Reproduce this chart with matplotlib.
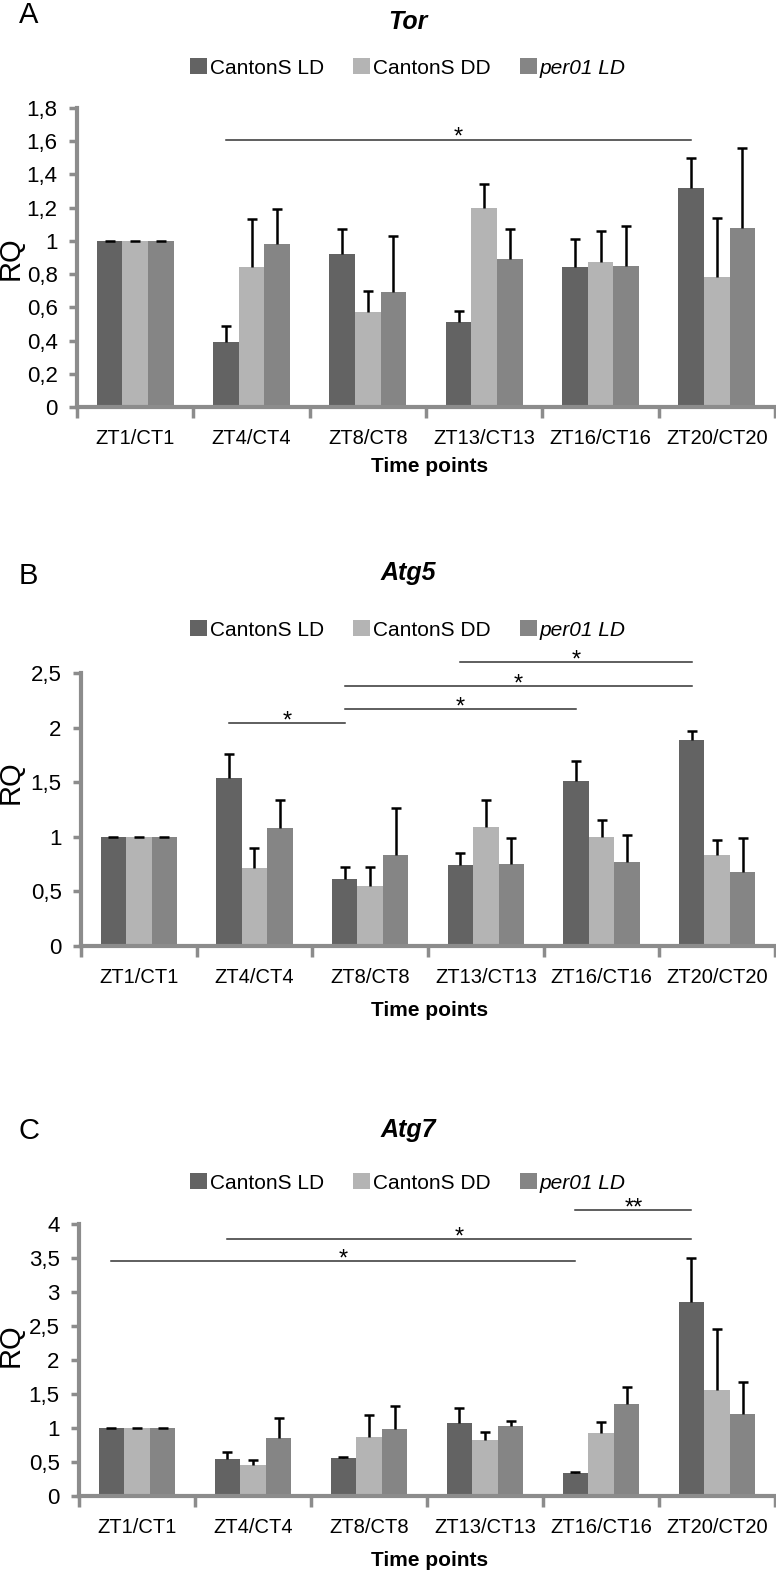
import matplotlib
matplotlib.use("Agg")
import matplotlib.pyplot as plt
import numpy as np

plt.rcParams['font.family'] = ['Liberation Sans', 'DejaVu Sans']

categories = ["ZT1/CT1", "ZT4/CT4", "ZT8/CT8", "ZT13/CT13", "ZT16/CT16", "ZT20/CT20"]
series_names = ["CantonS LD", "CantonS DD", "per01 LD"]

# Panel A: Tor
tor_ld = [1.0, 0.39, 0.92, 0.51, 0.84, 1.32]
tor_dd = [1.0, 0.84, 0.57, 1.20, 0.87, 0.78]
tor_per = [1.0, 0.98, 0.69, 0.89, 0.85, 1.08]
tor_ld_err = [0.0, 0.10, 0.15, 0.07, 0.17, 0.18]
tor_dd_err = [0.0, 0.29, 0.13, 0.14, 0.19, 0.36]
tor_per_err = [0.0, 0.21, 0.34, 0.18, 0.24, 0.48]
tor_yticks = [0, 0.2, 0.4, 0.6, 0.8, 1.0, 1.2, 1.4, 1.6, 1.8]
tor_yticklabels = ["0", "0,2", "0,4", "0,6", "0,8", "1", "1,2", "1,4", "1,6", "1,8"]
# significance: (from category, to category, line height, label)
tor_sig = [(1, 5, 1.61, "*")]

# Panel B: Atg5
atg5_ld = [1.0, 1.54, 0.61, 0.74, 1.51, 1.89]
atg5_dd = [1.0, 0.71, 0.55, 1.09, 1.00, 0.83]
atg5_per = [1.0, 1.08, 0.83, 0.75, 0.77, 0.68]
atg5_ld_err = [0.0, 0.22, 0.11, 0.11, 0.18, 0.08]
atg5_dd_err = [0.0, 0.19, 0.17, 0.25, 0.15, 0.14]
atg5_per_err = [0.0, 0.26, 0.43, 0.24, 0.25, 0.31]
atg5_yticks = [0, 0.5, 1.0, 1.5, 2.0, 2.5]
atg5_yticklabels = ["0", "0,5", "1", "1,5", "2", "2,5"]
atg5_sig = [(1, 2, 2.04, "*"), (2, 4, 2.17, "*"), (2, 5, 2.38, "*"), (3, 5, 2.60, "*")]

# Panel C: Atg7
atg7_ld = [1.0, 0.54, 0.56, 1.08, 0.34, 2.86]
atg7_dd = [1.0, 0.45, 0.87, 0.82, 0.93, 1.56]
atg7_per = [1.0, 0.85, 0.98, 1.03, 1.36, 1.20]
atg7_ld_err = [0.0, 0.10, 0.01, 0.22, 0.02, 0.64]
atg7_dd_err = [0.0, 0.08, 0.32, 0.12, 0.16, 0.90]
atg7_per_err = [0.0, 0.29, 0.34, 0.08, 0.24, 0.47]
atg7_yticks = [0, 0.5, 1.0, 1.5, 2.0, 2.5, 3.0, 3.5, 4.0]
atg7_yticklabels = ["0", "0,5", "1", "1,5", "2", "2,5", "3", "3,5", "4"]
atg7_sig = [(0, 4, 3.45, "*"), (1, 5, 3.78, "*"), (4, 5, 4.20, "**")]

colors = ["#636363", "#b4b4b4", "#858585"]
spine_col = "#8c8c8c"

W, H = 776, 1575
fig = plt.figure(figsize=(W / 100, H / 100), dpi=100)


def rect(left, top, right, bottom):
    return [left / W, 1 - bottom / H, (right - left) / W, (bottom - top) / H]


panels = [
    dict(letter="A", title="Tor", ld=tor_ld, dd=tor_dd, per=tor_per,
         errs=(tor_ld_err, tor_dd_err, tor_per_err), yticks=tor_yticks,
         ylabels=tor_yticklabels, sig=tor_sig, box=(77, 108, 775, 407),
         letter_y=15, title_y=22, legend_y=68, xl_y=467, rq_y=258),
    dict(letter="B", title="Atg5", ld=atg5_ld, dd=atg5_dd, per=atg5_per,
         errs=(atg5_ld_err, atg5_dd_err, atg5_per_err), yticks=atg5_yticks,
         ylabels=atg5_yticklabels, sig=atg5_sig, box=(81, 673, 775, 946),
         letter_y=576, title_y=573, legend_y=630, xl_y=1010, rq_y=782),
    dict(letter="C", title="Atg7", ld=atg7_ld, dd=atg7_dd, per=atg7_per,
         errs=(atg7_ld_err, atg7_dd_err, atg7_per_err), yticks=atg7_yticks,
         ylabels=atg7_yticklabels, sig=atg7_sig, box=(79, 1224, 775, 1496),
         letter_y=1131, title_y=1130, legend_y=1183, xl_y=1560, rq_y=1345),
]

bw = 0.22
offs = [-0.22, 0.0, 0.22]
x = np.arange(len(categories))

for p in panels:
    ax = fig.add_axes(rect(*p["box"]))
    handles = []
    for i, (vals, err) in enumerate(zip((p["ld"], p["dd"], p["per"]), p["errs"])):
        b = ax.bar(x + offs[i], vals, bw, color=colors[i], edgecolor="none",
                   label=series_names[i], zorder=2)
        handles.append(b)
        eb = ax.errorbar(x + offs[i], vals, yerr=[np.zeros(len(err)), err], fmt="none",
                         ecolor="black", elinewidth=1.8, capsize=3.5, capthick=1.8, zorder=3)
        caps = eb[1]
        if len(caps) == 2:
            caps[0].set_visible(False)
    ax.set_xlim(-0.5, 5.5)
    ax.set_ylim(p["yticks"][0], p["yticks"][-1])
    ax.set_yticks(p["yticks"])
    ax.set_yticklabels(p["ylabels"], fontsize=16)
    ax.set_xticks(x)
    ax.set_xticklabels(categories, fontsize=14.5)
    ax.set_xticks(np.arange(-0.5, 6.0, 1.0), minor=True)
    ax.tick_params(axis="x", which="major", length=0, pad=16)
    ax.tick_params(axis="x", which="minor", length=8, width=2.5, color=spine_col, direction="out")
    ax.tick_params(axis="y", length=6, width=2.5, color=spine_col, pad=8)
    for s in ("top", "right"):
        ax.spines[s].set_visible(False)
    for s in ("left", "bottom"):
        ax.spines[s].set_color(spine_col)
        ax.spines[s].set_linewidth(3)
    ax.spines["bottom"].set_zorder(4)

    for (a, b2, h, lab) in p["sig"]:
        xa = a + offs[0]
        xb = b2 + offs[0]
        ax.plot([xa, xb], [h, h], color="#333333", lw=1.1, clip_on=False, zorder=5)
        ax.annotate(lab, xy=((xa + xb) / 2, h), xytext=(0, -3), textcoords="offset points",
                    ha="center", va="baseline", fontsize=17, annotation_clip=False)

    fig.text(19 / W, 1 - p["letter_y"] / H, p["letter"], fontsize=21, ha="left", va="center")
    fig.text(408 / W, 1 - p["title_y"] / H, p["title"], fontsize=18, fontweight="bold",
             fontstyle="italic", ha="center", va="center")
    fig.text(430 / W, 1 - p["xl_y"] / H, "Time points", fontsize=15, fontweight="bold",
             ha="center", va="center")
    fig.text(11 / W, 1 - p["rq_y"] / H, "RQ", fontsize=21, rotation=90, ha="center", va="center")

    leg = fig.legend(handles=handles, labels=series_names, ncol=3, frameon=False,
                     loc="center", bbox_to_anchor=(408 / W, 1 - p["legend_y"] / H),
                     fontsize=15, handlelength=0.8, handleheight=0.8, handletextpad=0.15,
                     columnspacing=1.4, borderpad=0)
    leg.get_texts()[2].set_fontstyle("italic")

fig.savefig("out.png", dpi=100)
